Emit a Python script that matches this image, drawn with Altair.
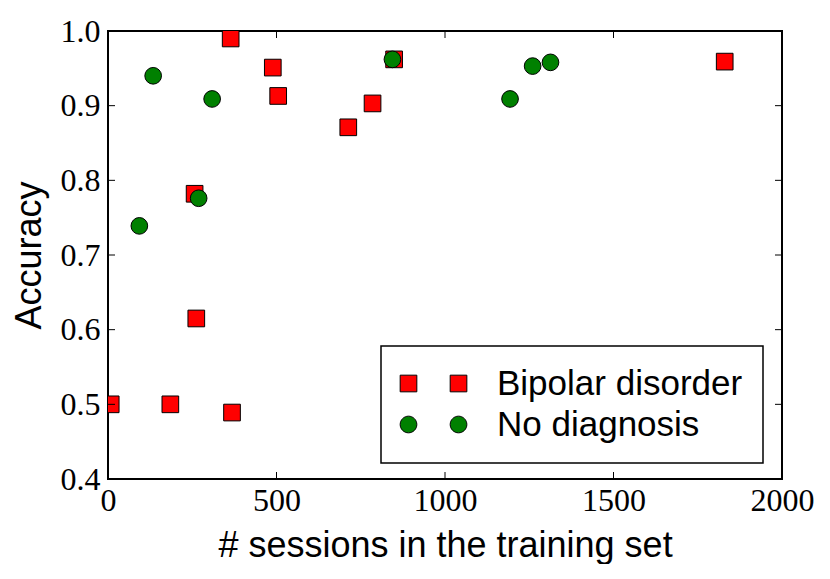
import altair as alt
import pandas as pd

# ---- data ----
bipolar_x = [8, 185, 257, 262, 364, 368, 489, 505, 713, 785, 849, 1830]
bipolar_y = [0.500, 0.500, 0.782, 0.615, 0.990, 0.489, 0.951, 0.913, 0.871, 0.903, 0.962, 0.959]
nodiag_x = [93, 134, 269, 309, 844, 1193, 1260, 1313]
nodiag_y = [0.739, 0.940, 0.776, 0.909, 0.962, 0.909, 0.953, 0.958]
series_names = ["Bipolar disorder", "No diagnosis"]
series_colors = ["#ff0000", "#008000"]
edge_colors = ["black", "black"]
x_ticks = [0, 500, 1000, 1500, 2000]
y_ticks = [0.4, 0.5, 0.6, 0.7, 0.8, 0.9, 1.0]

W, H = 674, 448
TICK = 7
MSIZE = 278

bip = pd.DataFrame({"sessions": bipolar_x, "accuracy": bipolar_y})
nod = pd.DataFrame({"sessions": nodiag_x, "accuracy": nodiag_y})
xt = pd.DataFrame({"sessions": x_ticks})
yt = pd.DataFrame({"accuracy": y_ticks})
leg = pd.DataFrame({"series": series_names, "sessions": [None, None], "accuracy": [None, None]})

xscale = alt.Scale(domain=[0, 2000], nice=False, zero=False)
yscale = alt.Scale(domain=[0.4, 1.0], nice=False, zero=False)

xaxis = alt.Axis(values=x_ticks, format="d", labelFont="Liberation Serif", labelFontSize=32,
                 labelPadding=6, labelFlush=False, labelOverlap=False, ticks=False, tickSize=0,
                 domain=False, grid=False, title="# sessions in the training set",
                 titleFont="Liberation Sans", titleFontSize=36, titleFontWeight="normal",
                 titlePadding=12, labelColor="black", titleColor="black")
yaxis = alt.Axis(values=y_ticks, format=".1f", labelFont="Liberation Serif", labelFontSize=32,
                 labelPadding=8, labelFlush=False, labelOverlap=False, ticks=False, tickSize=0,
                 domain=False, grid=False, title="Accuracy",
                 titleFont="Liberation Sans", titleFontSize=36, titleFontWeight="normal",
                 titlePadding=12, labelColor="black", titleColor="black")

red = alt.Chart(bip).mark_square(size=MSIZE, fill=series_colors[0], stroke="black",
                                 strokeWidth=1, opacity=1, clip=True).encode(
    x=alt.X("sessions:Q", scale=xscale, axis=xaxis),
    y=alt.Y("accuracy:Q", scale=yscale, axis=yaxis),
)
green = alt.Chart(nod).mark_circle(size=MSIZE, fill=series_colors[1], stroke="black",
                                   strokeWidth=1, opacity=1, clip=True).encode(
    x=alt.X("sessions:Q", scale=xscale),
    y=alt.Y("accuracy:Q", scale=yscale),
)

# inward ticks on all four sides
xt_bottom = alt.Chart(xt).mark_rule(color="black", strokeWidth=1).encode(
    x=alt.X("sessions:Q", scale=xscale), y=alt.value(H), y2=alt.value(H - TICK))
xt_top = alt.Chart(xt).mark_rule(color="black", strokeWidth=1).encode(
    x=alt.X("sessions:Q", scale=xscale), y=alt.value(0), y2=alt.value(TICK))
yt_left = alt.Chart(yt).mark_rule(color="black", strokeWidth=1).encode(
    y=alt.Y("accuracy:Q", scale=yscale), x=alt.value(0), x2=alt.value(TICK))
yt_right = alt.Chart(yt).mark_rule(color="black", strokeWidth=1).encode(
    y=alt.Y("accuracy:Q", scale=yscale), x=alt.value(W), x2=alt.value(W - TICK))

two_squares = "M-1,-1H1V1H-1Z M5,-1H7V1H5Z"
two_circles = "M1,0A1,1,0,1,1,-1,0A1,1,0,1,1,1,0Z M7,0A1,1,0,1,1,5,0A1,1,0,1,1,7,0Z"

legend = alt.Legend(title=None, orient="none", legendX=273, legendY=315, direction="vertical",
                    symbolStrokeWidth=1, symbolOffset=-10,
                    symbolOpacity=1, symbolSize=MSIZE)

leg_layer = alt.Chart(leg).mark_point(filled=False, opacity=1, size=MSIZE,
                                      strokeWidth=1, fillOpacity=1).encode(
    x=alt.X("sessions:Q", scale=xscale),
    y=alt.Y("accuracy:Q", scale=yscale),
    fill=alt.Fill("series:N", scale=alt.Scale(domain=series_names, range=series_colors),
                  legend=legend),
    shape=alt.Shape("series:N", scale=alt.Scale(domain=series_names,
                                                 range=[two_squares, two_circles]),
                    legend=legend),
    stroke=alt.Stroke("series:N", scale=alt.Scale(domain=series_names, range=edge_colors),
                      legend=legend),
)

chart = alt.layer(red, green, xt_bottom, xt_top, yt_left, yt_right, leg_layer).properties(
    width=W, height=H,
    autosize=alt.AutoSizeParams(type="none"),
    padding={"left": 100, "top": 23, "right": 35, "bottom": 85},
    background="white",
).configure_view(stroke="black", strokeWidth=2).configure_legend(
    strokeColor="black", strokeWidth=1.5, fillColor="white", padding=20,
    cornerRadius=0, rowPadding=5, labelFont="Liberation Sans", labelFontSize=35,
    labelColor="black", labelOffset=71, labelLimit=500, symbolSize=MSIZE,
    symbolStrokeWidth=1, symbolOpacity=1,
)

chart.save("out.html", embed_options={"renderer": "svg", "actions": False})
